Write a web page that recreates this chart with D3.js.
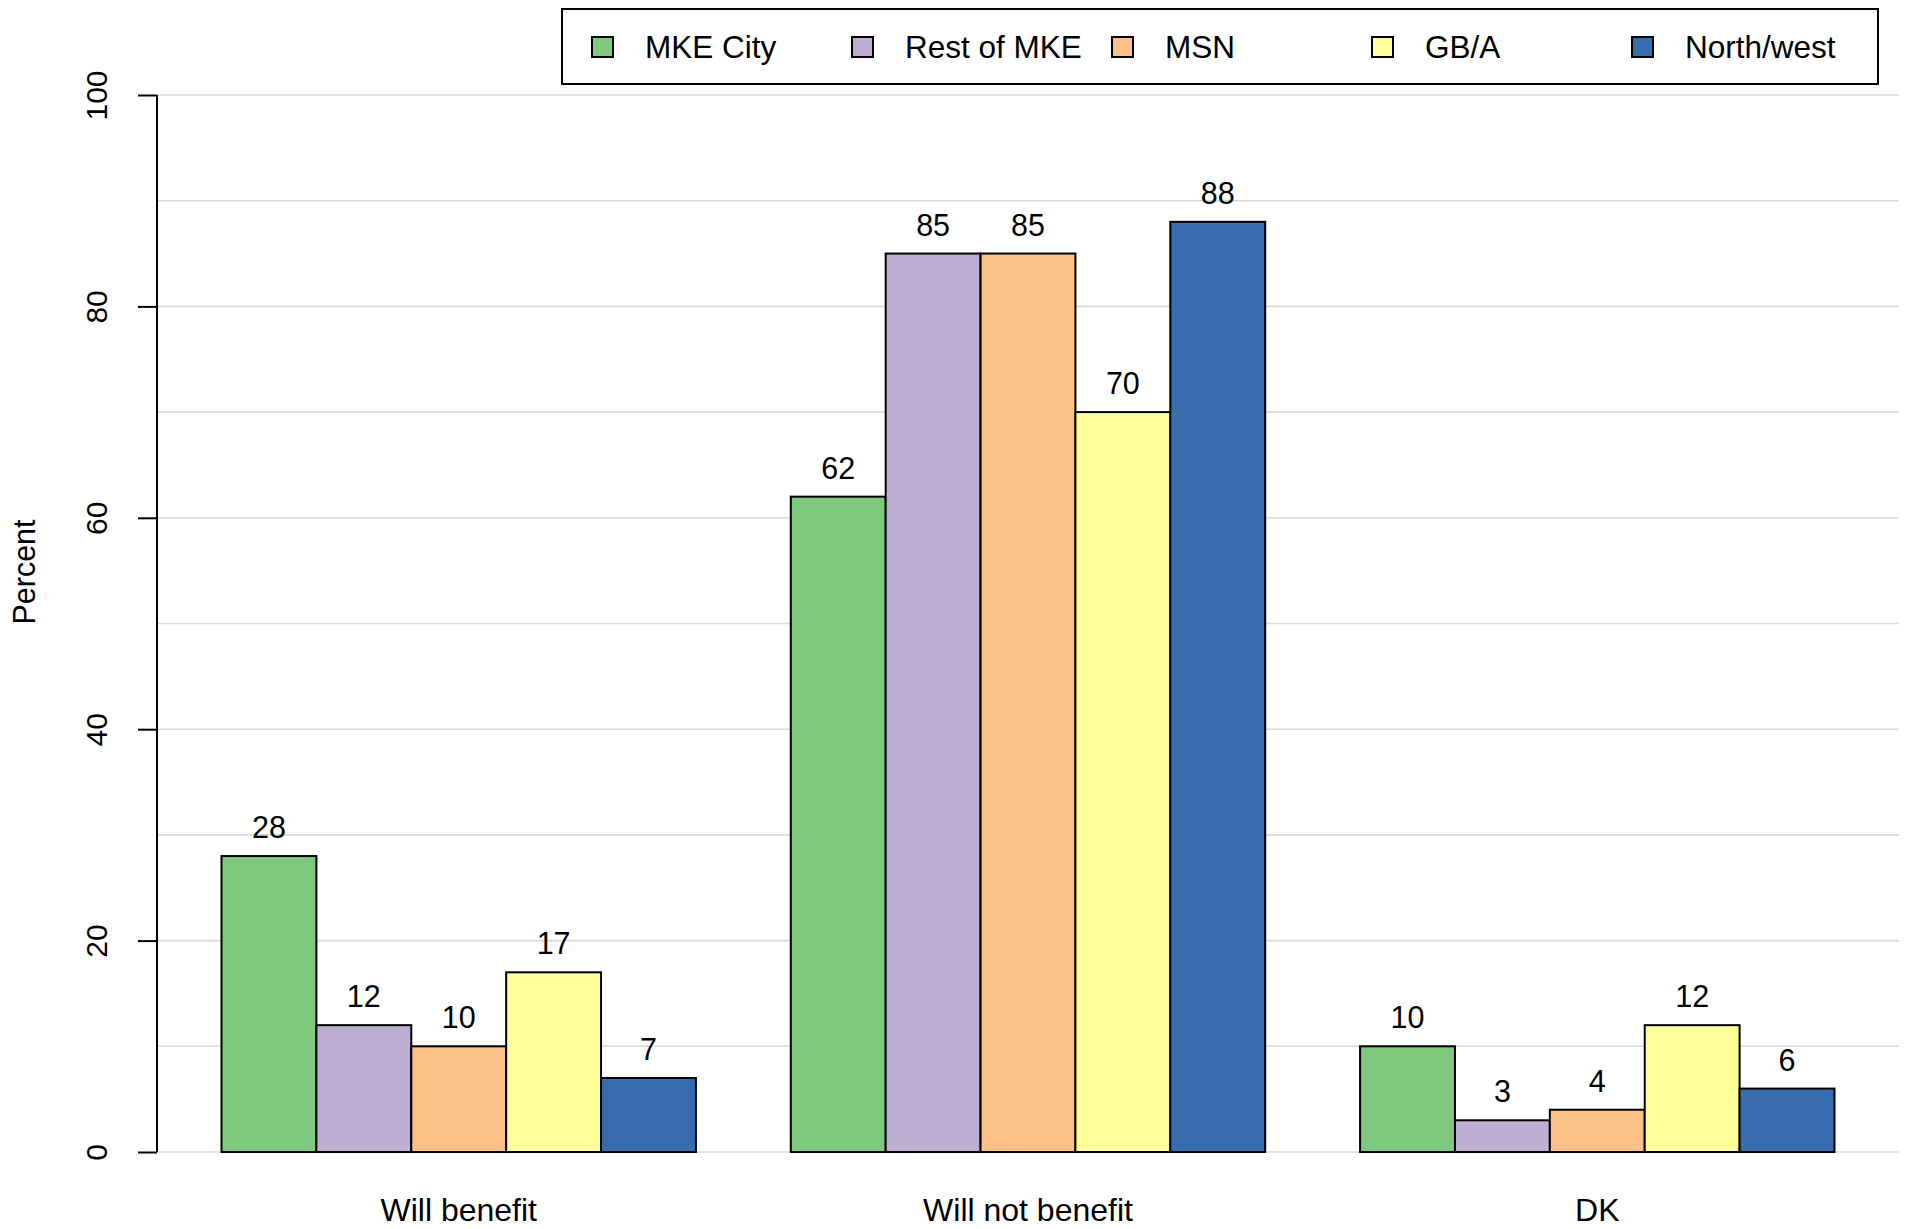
<!DOCTYPE html>
<html>
<head>
<meta charset="utf-8">
<script src="https://cdn.jsdelivr.net/npm/d3@7"></script>
<style>
  html, body { margin: 0; padding: 0; background: #ffffff; }
  svg { display: block; font-family: "Liberation Sans", Arial, Helvetica, sans-serif; }
</style>
</head>
<body>
<svg id="chart" width="1907" height="1229"></svg>
<script>
// ---- data ----
const categories = ["Will benefit", "Will not benefit", "DK"];
const seriesNames = ["MKE City", "Rest of MKE", "MSN", "GB/A", "North/west"];
const seriesColors = ["#7FC97F", "#BEAED4", "#FDC086", "#FFFF99", "#386CB0"];
const mkeCity   = [28, 62, 10];
const restOfMke = [12, 85, 3];
const msn       = [10, 85, 4];
const gba       = [17, 70, 12];
const northWest = [7, 88, 6];
const yTicks = [0, 20, 40, 60, 80, 100];
const yGrid = [0, 10, 20, 30, 40, 50, 60, 70, 80, 90, 100];
const yLabel = "Percent";

const series = [mkeCity, restOfMke, msn, gba, northWest];

// ---- layout ----
const svg = d3.select("#chart");
const nS = seriesNames.length;
const nC = categories.length;
// R-barplot style units: one bar = 1 unit, one unit space before each group
const totalUnits = nC * (nS + 1);
const x = d3.scaleLinear().domain([1 - 0.04 * (totalUnits - 1), totalUnits + 0.04 * (totalUnits - 1)]).range([157, 1899]);
const y = d3.scaleLinear().domain([0, 100]).range([1152, 95]);

function barLeft(c, s) { return 1 + c * (nS + 1) + s; }

// gridlines
svg.append("g").selectAll("line").data(yGrid).join("line")
  .attr("x1", x.range()[0]).attr("x2", x.range()[1])
  .attr("y1", d => y(d)).attr("y2", d => y(d))
  .attr("stroke", "#d9d9d9").attr("stroke-width", 1.6);

// bars
const barData = [];
categories.forEach((cat, c) => {
  series.forEach((vals, s) => {
    barData.push({ c, s, v: vals[c] });
  });
});

svg.append("g").selectAll("rect").data(barData).join("rect")
  .attr("x", d => x(barLeft(d.c, d.s)))
  .attr("width", d => x(barLeft(d.c, d.s) + 1) - x(barLeft(d.c, d.s)))
  .attr("y", d => y(d.v))
  .attr("height", d => y(0) - y(d.v))
  .attr("fill", d => seriesColors[d.s])
  .attr("stroke", "#000").attr("stroke-width", 2);

// value labels
svg.append("g").selectAll("text").data(barData).join("text")
  .attr("x", d => x(barLeft(d.c, d.s) + 0.5))
  .attr("y", d => y(d.v) - 18)
  .attr("text-anchor", "middle")
  .attr("font-size", 30.5)
  .attr("fill", "#000")
  .text(d => d.v);

// category labels
svg.append("g").selectAll("text").data(categories).join("text")
  .attr("x", (d, c) => x(1 + c * (nS + 1) + nS / 2))
  .attr("y", 1221)
  .attr("text-anchor", "middle")
  .attr("font-size", 32)
  .attr("fill", "#000")
  .text(d => d);

// y axis
const yAxis = d3.axisLeft(y).tickValues(yTicks).tickSize(19).tickPadding(0).tickFormat(d3.format("d"));
const gy = svg.append("g").attr("transform", `translate(${x.range()[0]},0)`).call(yAxis);
gy.select(".domain").attr("stroke", "#000").attr("stroke-width", 2).attr("d", `M0,${y(0)}V${y(100)}`);
gy.selectAll(".tick line").attr("stroke", "#000").attr("stroke-width", 2);
gy.selectAll(".tick text")
  .attr("x", null).attr("dy", null)
  .attr("font-size", 30)
  .attr("fill", "#000")
  .attr("font-family", "Liberation Sans, Arial, sans-serif")
  .attr("text-anchor", "middle")
  .attr("transform", "translate(-50,0) rotate(-90)")
  .attr("y", 0);

// y label
svg.append("text")
  .attr("transform", "translate(35,572) rotate(-90)")
  .attr("text-anchor", "middle")
  .attr("font-size", 30.5)
  .attr("fill", "#000")
  .text(yLabel);

// legend
const lg = svg.append("g");
lg.append("rect").attr("x", 562).attr("y", 9).attr("width", 1316).attr("height", 75)
  .attr("fill", "#fff").attr("stroke", "#000").attr("stroke-width", 2);
const legX = d3.scalePoint().domain(seriesNames).range([603, 1643]);
const items = lg.selectAll("g.item").data(seriesNames).join("g").attr("class", "item")
  .attr("transform", d => `translate(${legX(d)},47)`);
items.append("rect").attr("x", -11).attr("y", -10).attr("width", 21).attr("height", 20)
  .attr("fill", (d, i) => seriesColors[i]).attr("stroke", "#000").attr("stroke-width", 2);
items.append("text").attr("x", 42).attr("y", 11)
  .attr("font-size", 31.5).attr("fill", "#000").text(d => d);
</script>
</body>
</html>
